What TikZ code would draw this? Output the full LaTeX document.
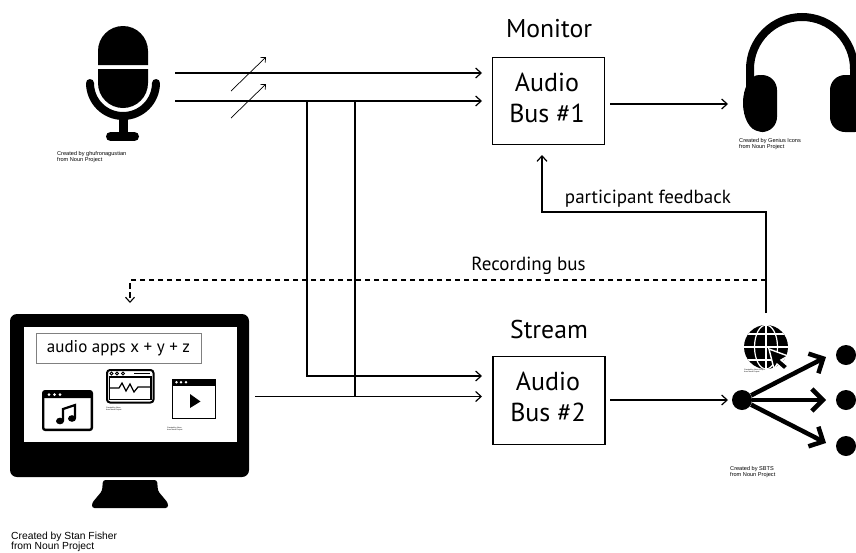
\documentclass[tikz,border=0pt]{standalone}
\usepackage{fontspec}
\setmainfont{PT Sans}
\newfontfamily\credit{Liberation Sans}
\usetikzlibrary{arrows.meta}
\tikzset{
  flow/.style={draw=black,line width=1.2pt,-{Straight Barb[length=5.5pt,width=10pt,line width=1.2pt]}},
  plain/.style={draw=black,line width=1.2pt},
  slash/.style={draw=black,line width=.7pt,-{Straight Barb[length=4pt,width=7pt,line width=.7pt]}},
  recbus/.style={draw=black,line width=1.1pt,dash pattern=on 5.5pt off 3.5pt,-{Straight Barb[length=5pt,width=9pt,line width=1.1pt]}},
  busbox/.style={draw=black,line width=1.3pt,minimum width=112pt,minimum height=87.5pt,inner sep=0pt},
  bustext/.style={align=center,font=\fontsize{26}{31}\selectfont,inner sep=0pt},
  head/.style={font=\fontsize{25.7}{28}\selectfont,inner sep=0pt,anchor=base},
  label/.style={font=\fontsize{19}{21}\selectfont,inner sep=0pt,anchor=base},
  creditA/.style={align=left,anchor=north west,inner sep=0pt,font=\credit\fontsize{5.6}{5.8}\selectfont},
  creditB/.style={align=left,anchor=north west,inner sep=0pt,font=\credit\fontsize{10.3}{10}\selectfont},
  creditC/.style={align=left,anchor=north west,inner sep=0pt,font=\credit\fontsize{1.9}{2.3}\selectfont},
  fan/.style={draw=black,line width=4.5pt,-{Straight Barb[length=11pt,width=22pt,line width=4.5pt]}},
  dot/.style={circle,fill=black,inner sep=0pt,minimum size=20pt},
}
\begin{document}
\begin{tikzpicture}[x=1pt,y=-1pt]
\useasboundingbox (0,0) rectangle (856,552);
\fill[white] (0,0) rectangle (856,552);

% microphone
\fill (98,65) -- (98,51) arc[start angle=180,end angle=360,radius=25] -- (148,65) -- cycle;
\fill (98,69) -- (148,69) -- (148,83) arc[start angle=0,end angle=180,radius=25] -- cycle;
\draw[line width=8pt,line cap=round] (90,83) arc[start angle=180,end angle=0,radius=33];
\draw[line width=9pt] (123,115) -- (123,135);
\draw[line width=9pt,line cap=round] (110.5,136.5) -- (134.5,136.5);
\node[creditA] (miccredit) at (57,151.5) {Created by ghufronagustian\\from Noun Project};
\coordinate (mic1) at (175,73);
\coordinate (mic2) at (175,101);

% headphones
\draw[line width=8pt] (750,90) -- (750,69) arc[start angle=180,end angle=0,x radius=52,y radius=-52] -- (854,90);
\fill[rounded corners=15pt] (748,75) -- (777,75) -- (777,132) -- (748,132) -- cycle;
\fill (759,103) ellipse[x radius=16,y radius=28];
\fill[rounded corners=15pt] (830,75) -- (870,75) -- (870,132) -- (830,132) -- cycle;
\node[creditA] (phonecredit) at (739,138.5) {Created by Genius Icons\\from Noun Project};
\coordinate (phones) at (728,104);

% computer
\fill[rounded corners=7pt] (10,314) rectangle (249,477);
\fill[white] (23.5,327) rectangle (237,442);
\fill[rounded corners=2.5pt] (103,480) -- (157,480) -- (158,491) -- (168,503) -- (168,508) -- (92,508) -- (92,503) -- (102,491) -- cycle;
\node[creditB] (compcredit) at (11,531.5) {Created by Stan Fisher\\from Noun Project};
\node[draw=black!50,line width=.7pt,minimum width=165pt,minimum height=30pt,inner sep=0pt,font=\fontsize{17}{20}\selectfont] (apps) at (118.5,348) {audio apps x + y + z};
\coordinate (compout) at (255,396.5);
\coordinate (compin) at (130,303);

% music window
\draw[line width=2.4pt,rounded corners=2pt,fill=white] (43.2,391.2) rectangle (91.8,429.8);
\fill[rounded corners=1.5pt] (43,391) rectangle (92,398);
\foreach \x in {49,54.5,60} \fill[white] (\x,394.5) circle (1.5);
\fill (60,421) ellipse[x radius=4,y radius=3.3];
\fill (72,418.5) ellipse[x radius=4,y radius=3.3];
\draw[line width=2.2pt] (63,421) -- (63,409) -- (75,405) -- (75,418);

% wave window
\draw[line width=2pt,rounded corners=3pt,fill=white] (107,370) rectangle (153.5,402.5);
\draw[line width=1.2pt] (109.5,377) rectangle (151,399.5);
\foreach \x in {111.5,117,123} \draw[line width=.9pt] (\x,373.5) circle (1.5);
\draw[line width=1pt] (134,373.5) -- (150,373.5);
\draw[line width=1.2pt] (110,388) -- (119,388) -- (122,383) -- (126,391) -- (130,384) -- (134,392) -- (138,387) -- (151,387);
\node[creditC] (wavecredit) at (106,407) {Created by Noun\\from Noun Project};

% play window
\draw[line width=1.2pt,fill=white] (172.6,379.6) rectangle (215.6,418.5);
\fill (172,379) rectangle (216,385.5);
\foreach \x in {176.5,181,186} \fill[white] (\x,382.2) circle (1.3);
\fill (190,394) -- (200.5,401.5) -- (190,408) -- cycle;
\node[creditC] (playcredit) at (167,427) {Created by Noun\\from Noun Project};

% bus boxes and headings
\node[busbox] (bus1) at (548.5,101) {};
\node[busbox] (bus2) at (549,400.5) {};
\node[bustext] (bus1text) at (547,97.5) {Audio\\Bus \#1};
\node[bustext] (bus2text) at (548,396.5) {Audio\\Bus \#2};
\node[head] (monitor) at (549,37) {Monitor};
\node[head] (stream) at (549,338) {Stream};
\node[label] (feedback) at (648,203) {participant feedback};
\node[label] (recording) at (528.5,270) {Recording bus};
\coordinate (in1a) at (482,73);
\coordinate (in1b) at (482,101);
\coordinate (in2a) at (482,376);
\coordinate (in2b) at (482,396.5);
\coordinate (out1) at (610,104);
\coordinate (out2) at (610,400);
\coordinate (hubin) at (728,400);
\coordinate (fbin) at (542,155);
\coordinate (fbcorner) at (542,212);
\coordinate (netout) at (766,313);
\coordinate (branchA) at (307,101);
\coordinate (branchAlow) at (307,376);
\coordinate (branchB) at (355,101);
\coordinate (branchBlow) at (355,396.5);
\coordinate (slash1a) at (231,91);
\coordinate (slash1b) at (266,57);
\coordinate (slash2a) at (231,118);
\coordinate (slash2b) at (266,84);

% connectors
\draw[flow] (mic1) -- (in1a);
\draw[flow] (mic2) -- (in1b);
\draw[slash] (slash1a) -- (slash1b);
\draw[slash] (slash2a) -- (slash2b);
\draw[flow] (branchA) -- (branchAlow) -- (in2a);
\draw[plain] (branchBlow) -- (branchB);
\draw[flow] (compout) -- (in2b);
\draw[flow] (out1) -- (phones);
\draw[flow] (out2) -- (hubin);
\draw[flow] (netout) |- (fbcorner) -- (fbin);
\draw[recbus] (766,280) coordinate (recstart) -- (130,280) coordinate (reccorner) -- (compin);

% globe
\fill (766,347) circle (22);
\begin{scope}
\clip (766,347) circle (22);
\draw[white,line width=1.2pt] (766,320) -- (766,374);
\draw[white,line width=1.2pt] (740,347) -- (792,347);
\draw[white,line width=1.2pt] (740,334) -- (792,334);
\draw[white,line width=1.2pt] (740,360) -- (792,360);
\draw[white,line width=1.2pt] (766,347) ellipse[x radius=11.5,y radius=22];
\end{scope}
\fill[black,draw=white,line width=1.4pt] (769,349) -- (788,356) -- (781,360) -- (788,366) -- (784,370) -- (777,364) -- (774,369) -- cycle;
\node[creditC] (globecredit) at (744,369) {Created by Noun Project\\from Noun Project};

% audience fan-out
\node[dot] (hub) at (742,400) {};
\node[dot] (aud1) at (846,355) {};
\node[dot] (aud2) at (846,400) {};
\node[dot] (aud3) at (846,446) {};
\coordinate (tip1) at (826,357);
\coordinate (tip2) at (826,400);
\coordinate (tip3) at (826,443);
\draw[fan] (hub) -- (tip1);
\draw[fan] (hub) -- (tip2);
\draw[fan] (hub) -- (tip3);
\node[creditA] (hubcredit) at (730,466.5) {Created by SBTS\\from Noun Project};
\end{tikzpicture}
\end{document}
